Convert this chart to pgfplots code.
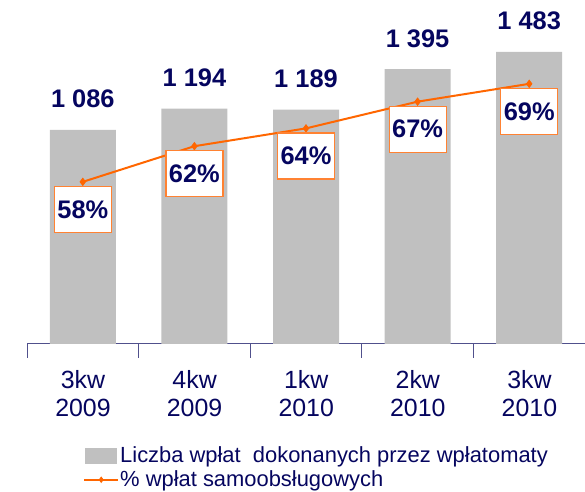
\documentclass[border=0pt]{standalone}
\usepackage{pgfplots}
\pgfplotsset{compat=1.18}
\usepackage{fontspec}
\setmainfont{Liberation Sans}
\definecolor{navy}{RGB}{5,5,95}
\definecolor{barc}{RGB}{192,192,192}
\definecolor{orng}{RGB}{255,102,0}
\definecolor{boxb}{RGB}{255,130,50}
\definecolor{axc}{RGB}{80,80,140}
\begin{document}
\begin{tikzpicture}[x=1bp,y=1bp]
\useasboundingbox (0,0) rectangle (585,492);
\begin{axis}[
  at={(27bp,148bp)}, anchor=south west,
  scale only axis, width=558bp, height=335bp,
  xmin=-0.5, xmax=4.5, ymin=0, ymax=1700,
  axis x line=bottom, axis y line=none,
  axis line style={draw=axc, line width=1bp, -},
  xtick={-0.5,0.5,1.5,2.5,3.5},
  xticklabels={{3kw\\2009},{4kw\\2009},{1kw\\2010},{2kw\\2010},{3kw\\2010}},
  xticklabel style={align=center, xshift=56bp, yshift=-9bp, text=navy, font=\fontsize{25}{28}\selectfont},
  tick style={draw=axc, line width=1bp},
  tick align=center, major tick length=14bp,
  clip=false,
  ybar, bar width=66bp,
  point meta=explicit symbolic,
  nodes near coords,
  every node near coord/.append style={anchor=base, yshift=22bp, inner sep=0pt, text=navy, font=\bfseries\fontsize{25.5}{26}\selectfont},
]
\addplot[fill=barc, draw=none] coordinates {
  (0,1086) [1 086]
  (1,1194) [1 194]
  (2,1189) [1 189]
  (3,1395) [1 395]
  (4,1483) [1 483]
};
\end{axis}
\begin{axis}[
  at={(27bp,148bp)}, anchor=south west,
  scale only axis, width=558bp, height=335bp,
  xmin=-0.5, xmax=4.5, ymin=39.8, ymax=77.4,
  hide axis, clip=false,
  legend style={at={(0.095,-0.297)}, anchor=north west, draw=none, fill=none,
    text=navy, font=\fontsize{22}{24}\selectfont, row sep=5bp,
    nodes={inner sep=1bp}},
  legend cell align=left,
]
\addlegendimage{legend image code/.code={\fill[barc] (0bp,-7.5bp) rectangle (31bp,7.5bp);}}
\addlegendentry{Liczba wpłat\ \ dokonanych przez wpłatomaty}
\addplot[color=orng, line width=2bp, mark=diamond*, mark size=3.5bp,
  mark options={fill=orng, draw=orng, line width=1bp},
  point meta=explicit symbolic,
  nodes near coords,
  every node near coord/.append style={anchor=north, yshift=-4bp, draw=boxb, line width=1.2bp, fill=white,
    minimum width=57bp, minimum height=46bp, inner sep=0pt, text=navy,
    font=\bfseries\fontsize{25.5}{25}\selectfont},
  legend image code/.code={\draw[mark repeat=2, mark phase=2, mark size=2.5bp] plot coordinates {(-1bp,0bp) (16bp,0bp) (33bp,0bp)};},
] coordinates {
  (0,58) [58\%]
  (1,62) [62\%]
  (2,64) [64\%]
  (3,67) [67\%]
  (4,69) [69\%]
};
\addlegendentry{\% wpłat samoobsługowych}
\end{axis}
\end{tikzpicture}
\end{document}
